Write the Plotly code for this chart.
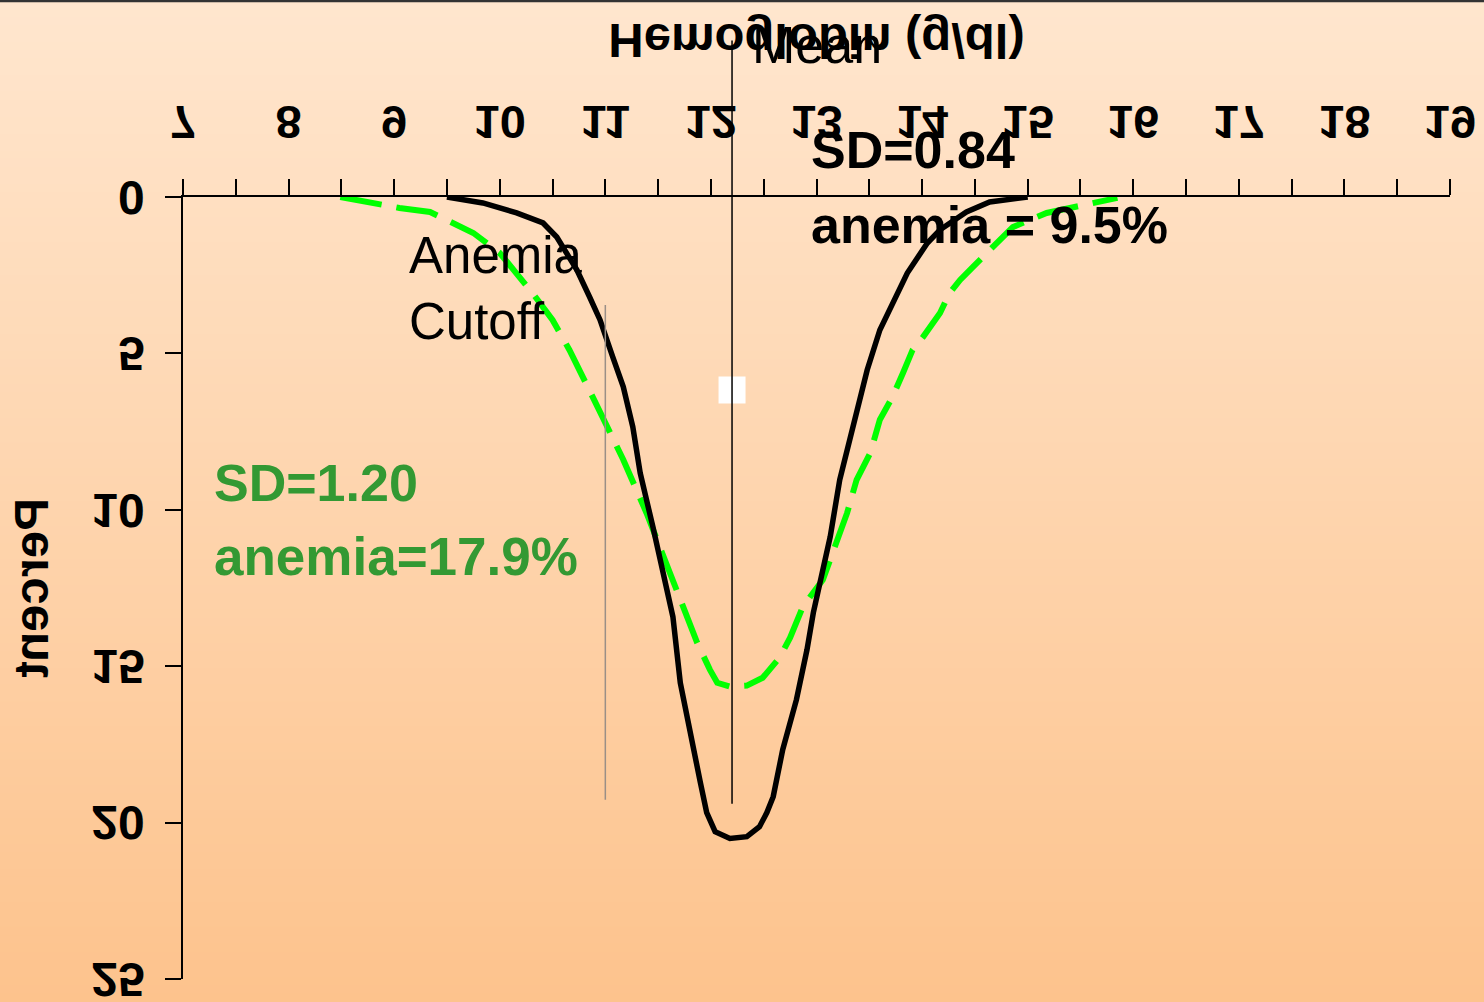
import plotly.graph_objects as go

# ---------------- data ----------------
hb_sd084 = [9.50, 9.84, 10.16, 10.41, 10.54, 10.73, 10.85, 10.95, 11.07, 11.17, 11.26, 11.33,
            11.45, 11.64, 11.71, 11.80, 11.90, 11.96, 12.04, 12.18, 12.34, 12.46, 12.53, 12.59,
            12.68, 12.81, 12.91, 12.97, 13.13, 13.22, 13.32, 13.48, 13.60, 13.86, 14.05, 14.17,
            14.42, 14.64, 15.00]
pct_sd084 = [0.00, 0.19, 0.51, 0.83, 1.28, 2.33, 3.19, 3.93, 5.11, 6.07, 7.35, 8.82,
             10.54, 13.42, 15.53, 17.12, 18.72, 19.68, 20.29, 20.51, 20.45, 20.13, 19.68, 19.17,
             17.67, 16.07, 14.47, 13.29, 10.86, 9.04, 7.67, 5.53, 4.25, 2.43, 1.47, 1.05,
             0.48, 0.16, 0.00]

hb_sd120 = [8.49, 9.05, 9.34, 9.75, 10.00, 10.16, 10.31, 10.50, 10.66, 10.88, 11.02, 11.17,
            11.39, 11.61, 11.77, 11.87, 11.99, 12.06, 12.18, 12.34, 12.49, 12.65, 12.75, 12.87,
            13.06, 13.19, 13.29, 13.38, 13.51, 13.60, 13.72, 13.82, 13.91, 14.01, 14.17, 14.26,
            14.36, 14.48, 14.61, 14.71, 14.86, 15.18, 15.85]
pct_sd120 = [0.00, 0.35, 0.48, 1.15, 1.79, 2.43, 3.07, 3.93, 4.89, 6.39, 7.35, 8.40,
             10.10, 12.01, 13.29, 14.25, 15.11, 15.53, 15.65, 15.62, 15.37, 14.73, 14.09, 13.10,
             12.24, 10.96, 10.10, 9.04, 8.18, 7.12, 6.39, 5.62, 4.89, 4.47, 3.71, 3.07,
             2.65, 2.24, 1.79, 1.47, 0.96, 0.51, 0.03]

mean_hb = 12.2
mean_line_pct = [-5.0, 19.4]
cutoff_hb = 11.0
cutoff_line_pct = [3.45, 19.27]
marker_hb = [12.2]
marker_pct = [6.17]

x_range = [7, 19]
y_range = [25, 0]
x_ticks = list(range(7, 20))
y_ticks = [0, 5, 10, 15, 20, 25]

x_title = "Hemoglobin (g/dl)"
y_title = "Percent"
label_mean = "Mean"
label_cutoff = "Anemia<br>Cutoff"
label_sd084 = "SD=0.84"
label_an084 = "anemia = 9.5%"
label_sd120 = "SD=1.20"
label_an120 = "anemia=17.9%"

# ---------------- figure ----------------
W, H = 1484, 1002
ML, MR, MT, MB = 183, 34, 197, 23
FONT = "Liberation Sans, Arial, sans-serif"
GREEN_TXT = "#339933"

fig = go.Figure()

fig.add_trace(go.Scatter(x=hb_sd120, y=pct_sd120, mode="lines",
                         line=dict(color="#00ff00", width=6, dash="42px,15px"),
                         hoverinfo="skip", showlegend=False))
fig.add_trace(go.Scatter(x=hb_sd084, y=pct_sd084, mode="lines",
                         line=dict(color="black", width=5.5),
                         hoverinfo="skip", showlegend=False))
fig.add_trace(go.Scatter(x=marker_hb, y=marker_pct, mode="markers",
                         marker=dict(symbol="square", size=27, color="white"),
                         hoverinfo="skip", showlegend=False))


def ypaper(v):
    return (y_range[0] - v) / (y_range[0] - y_range[1])


def xpaper(v):
    return (v - x_range[0]) / (x_range[1] - x_range[0])


# background gradient bands (paper coordinates covering whole figure)
pw = W - ML - MR
ph = H - MT - MB
x0p, x1p = -ML / pw, 1 + MR / pw
top_p, bot_p = 1 + MT / ph, -MB / ph
n = 120
c_top = (255, 230, 206)
c_bot = (253, 195, 141)
shapes = []
for i in range(n):
    t = i / (n - 1)
    r = round(c_top[0] + (c_bot[0] - c_top[0]) * t)
    g = round(c_top[1] + (c_bot[1] - c_top[1]) * t)
    b = round(c_top[2] + (c_bot[2] - c_top[2]) * t)
    ya = top_p - (top_p - bot_p) * i / n
    yb = top_p - (top_p - bot_p) * (i + 1) / n
    shapes.append(dict(type="rect", xref="paper", yref="paper", x0=x0p, x1=x1p,
                       y0=yb - 0.002, y1=ya, fillcolor=f"rgb({r},{g},{b})",
                       line=dict(width=0), layer="below"))
# top border line
shapes.append(dict(type="line", xref="paper", yref="paper", x0=x0p, x1=x1p,
                   y0=top_p - 0.001, y1=top_p - 0.001, line=dict(color="#333333", width=3)))

# mean line (extends above the plot area)
shapes.append(dict(type="line", xref="paper", yref="paper",
                   x0=xpaper(mean_hb), x1=xpaper(mean_hb),
                   y0=ypaper(mean_line_pct[0]), y1=ypaper(mean_line_pct[1]),
                   line=dict(color="black", width=1.5), layer="above"))
# anemia cutoff line
shapes.append(dict(type="line", xref="x", yref="y",
                   x0=cutoff_hb, x1=cutoff_hb, y0=cutoff_line_pct[0], y1=cutoff_line_pct[1],
                   line=dict(color="#9a8f86", width=1.5), layer="above"))


def ann(x, y, text, size, color="black", bold=False):
    f = dict(family=FONT, size=size, color=color)
    if bold:
        f["weight"] = "bold"
    return dict(x=x, y=ypaper(y), xref="x", yref="paper", text=text, showarrow=False,
                xanchor="left", yanchor="middle", align="left", font=f)


annotations = [
    ann(12.37, -4.86, label_mean, 52),
    ann(9.12, 2.94, label_cutoff, 51),
    ann(12.93, -1.50, label_sd084, 52, bold=True),
    ann(12.93, 0.89, label_an084, 52, bold=True),
    ann(7.27, 9.14, label_sd120, 52, GREEN_TXT, bold=True),
    ann(7.27, 11.50, label_an120, 53, GREEN_TXT, bold=True),
]

fig.update_layout(
    width=W, height=H, autosize=False,
    margin=dict(l=ML, r=MR, t=MT, b=MB, pad=0, autoexpand=False),
    paper_bgcolor="rgb(254,212,172)", plot_bgcolor="rgba(0,0,0,0)",
    shapes=shapes, annotations=annotations,
    font=dict(family=FONT, color="black"),
    xaxis=dict(range=x_range, side="top", tickmode="array", tickvals=x_ticks,
               ticktext=[str(v) for v in x_ticks], automargin=False,
               ticks="outside", ticklen=16, tickwidth=1.5, tickcolor="black",
               showline=True, linecolor="black", linewidth=1.5,
               minor=dict(ticks="outside", ticklen=16, dtick=0.5, tick0=7,
                          tickwidth=1.5, tickcolor="black"),
               showgrid=False, zeroline=False, ticklabelstandoff=21,
               ticklabeloverflow="allow",
               tickfont=dict(family=FONT, size=47, weight="bold"),
               title=dict(text=x_title, standoff=22,
                          font=dict(family=FONT, size=49, weight="bold"))),
    yaxis=dict(range=y_range, tickmode="array", tickvals=y_ticks,
               ticktext=[str(v) for v in y_ticks], automargin=False,
               ticks="outside", ticklen=16, tickwidth=1.5, tickcolor="black",
               showline=True, linecolor="black", linewidth=1.5,
               showgrid=False, zeroline=False, ticklabelstandoff=11,
               ticklabeloverflow="allow",
               tickfont=dict(family=FONT, size=48, weight="bold"),
               title=dict(text=y_title, standoff=27,
                          font=dict(family=FONT, size=49, weight="bold"))),
)

# The reference shows axis tick labels and axis titles mirrored vertically;
# reproduce that by flipping those text elements in place.
post_js = """
(function(){
  document.body.style.margin = '0';
  function flipAll(){
    var gd = document.getElementById('{plot_id}');
    if(!gd) return;
    function flip(el, mode){
      var t = el.getAttribute('transform') || '';
      if(t.indexOf('scale(1,-1)') >= 0 || t.indexOf('scale(-1,1)') >= 0) return;
      var bb = el.getBBox();
      if(mode === 'v'){
        var cy = bb.y + bb.height / 2;
        el.setAttribute('transform', t + ' translate(0,' + (2 * cy) + ') scale(1,-1)');
      } else {
        var cx = bb.x + bb.width / 2;
        el.setAttribute('transform', t + ' translate(' + (2 * cx) + ',0) scale(-1,1)');
      }
    }
    gd.querySelectorAll('g.xtick text, g.ytick text, .g-xtitle text').forEach(function(el){ flip(el, 'v'); });
    gd.querySelectorAll('.g-ytitle text').forEach(function(el){ flip(el, 'h'); });
  }
  flipAll();
  setTimeout(flipAll, 150);
  setTimeout(flipAll, 600);
  var gd = document.getElementById('{plot_id}');
  if(gd && gd.on){ gd.on('plotly_afterplot', flipAll); }
})();
"""

fig.write_html("out.html", post_script=post_js, config={"displayModeBar": False})
